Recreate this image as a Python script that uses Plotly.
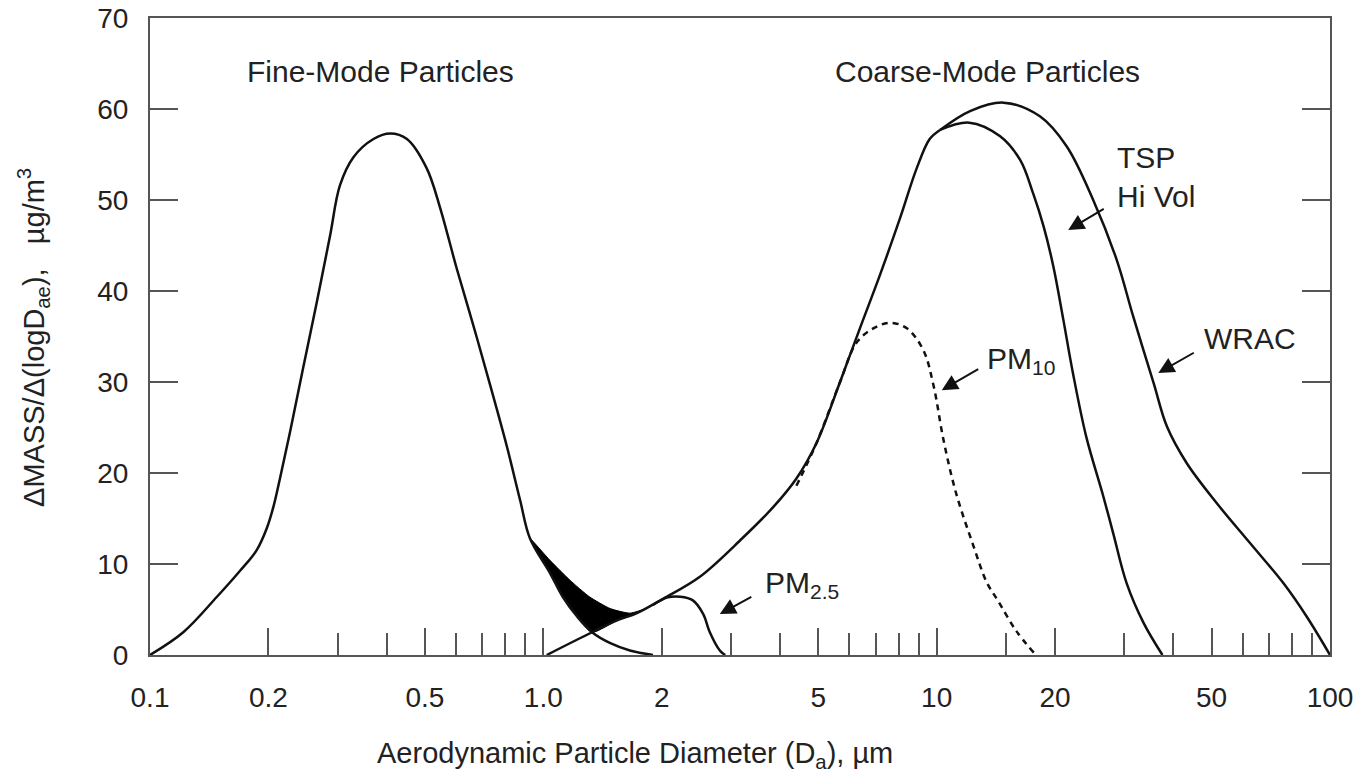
import numpy as np
import plotly.graph_objects as go

# ---------------- data ----------------
fine_x = [0.1, 0.1215, 0.148, 0.169, 0.1866, 0.198, 0.206, 0.214, 0.227, 0.245, 0.265, 0.287,
          0.304, 0.329, 0.370, 0.408, 0.450, 0.505, 0.546, 0.602, 0.664, 0.731, 0.807, 0.873,
          0.925, 1.04, 1.12, 1.22, 1.33, 1.48, 1.66, 1.90]
fine_y = [0, 2.5, 6.4, 9.2, 11.5, 13.9, 16.3, 19.4, 24.5, 31.5, 38.6, 46.1,
          51.6, 54.7, 56.7, 57.3, 56.7, 53.5, 49.2, 42.5, 36.2, 29.8, 23.0, 17.0,
          12.8, 9.0, 6.4, 4.2, 2.5, 1.3, 0.5, 0.0]

coarse_x = [1.02, 1.33, 1.54, 1.73, 2.02, 2.50, 3.2, 3.85, 4.40, 4.95, 5.68, 6.38, 7.18,
            8.07, 8.9, 9.6, 10.2]
coarse_y = [0.0, 2.5, 3.8, 4.6, 6.2, 8.6, 12.8, 16.3, 19.4, 23.3, 30.0, 35.9, 41.8,
            48.0, 53.5, 56.7, 57.7]

tsp_x = [10.2, 12.1, 14.5, 16.3, 17.6, 18.7, 19.8, 21.0, 22.2, 24.0, 26.5, 28.1, 30.4, 33.6, 37.5]
tsp_y = [57.7, 58.5, 57.0, 54.4, 50.7, 47.1, 42.7, 36.8, 31.0, 24.0, 17.5, 13.4, 7.9, 3.5, 0.0]

wrac_x = [10.2, 12.2, 14.8, 18.3, 21.4, 25.0, 28.7, 31.6, 35.6, 38.5, 43.2, 51.5, 62.6,
          76.1, 87.3, 100]
wrac_y = [57.7, 59.8, 60.7, 59.2, 55.9, 50.0, 43.4, 37.2, 29.9, 25.1, 21.1, 16.7, 12.3,
          7.9, 4.2, 0.0]

pm10_x = [4.40, 4.95, 5.68, 6.25, 6.9, 7.62, 8.4, 9.25, 9.82, 10.4, 11.2, 12.4, 13.4,
          14.3, 15.9, 17.7]
pm10_y = [18.6, 23.3, 30.0, 34.3, 35.9, 36.5, 35.9, 33.5, 29.6, 23.7, 17.8, 12.0, 8.0,
          6.0, 2.7, 0.2]

pm25_x = [1.9, 2.06, 2.23, 2.40, 2.55, 2.65, 2.81, 2.90]
pm25_y = [5.5, 6.3, 6.4, 6.0, 4.5, 2.5, 0.5, 0.0]

# upper edge of the black overlap region (sum of both modes)
overlap_x = [0.925, 1.04, 1.17, 1.31, 1.48, 1.66, 1.80]
overlap_y = [12.8, 10.4, 8.2, 6.4, 5.1, 4.6, 5.0]
cross_x = 1.33  # where fine and coarse curves cross

x_tickvals = [0.1, 0.2, 0.5, 1, 2, 5, 10, 20, 50, 100]
x_ticktext = ["0.1", "0.2", "0.5", "1.0", "2", "5", "10", "20", "50", "100"]
x_minor = [0.3, 0.4, 0.6, 0.7, 0.8, 0.9, 3, 4, 6, 7, 8, 9, 15, 30, 40, 60, 70, 80, 90]
y_tickvals = [0, 10, 20, 30, 40, 50, 60, 70]

# ---------------- figure ----------------
FONT = "Liberation Sans, Arial, Helvetica, sans-serif"
INK = "#111111"
AX = "#555555"
TXT = "#222222"

fig = go.Figure()

# black overlap fill polygon: top edge forward, then coarse + fine edges back
lo_c = [(x, y) for x, y in zip(coarse_x, coarse_y) if cross_x <= x <= overlap_x[-1]]
lo_f = [(x, y) for x, y in zip(fine_x, fine_y) if overlap_x[0] <= x < cross_x]
poly_x = list(overlap_x) + [p[0] for p in reversed(lo_c)] + [p[0] for p in reversed(lo_f)]
poly_y = list(overlap_y) + [p[1] for p in reversed(lo_c)] + [p[1] for p in reversed(lo_f)]
fig.add_trace(go.Scatter(x=poly_x, y=poly_y, mode="lines", fill="toself",
                         fillcolor="#000000", line=dict(color="#000000", width=1,
                         shape="spline", smoothing=0.6), hoverinfo="skip"))

line_kw = dict(color=INK, width=2.5, shape="spline", smoothing=1.0)
fig.add_trace(go.Scatter(x=fine_x, y=fine_y, mode="lines", line=line_kw))
fig.add_trace(go.Scatter(x=coarse_x, y=coarse_y, mode="lines", line=line_kw))
fig.add_trace(go.Scatter(x=tsp_x, y=tsp_y, mode="lines", line=line_kw))
fig.add_trace(go.Scatter(x=wrac_x, y=wrac_y, mode="lines", line=line_kw))
fig.add_trace(go.Scatter(x=pm25_x, y=pm25_y, mode="lines", line=line_kw))
fig.add_trace(go.Scatter(x=pm10_x, y=pm10_y, mode="lines",
                         line=dict(color=INK, width=2.5, dash="6px,5px",
                                   shape="spline", smoothing=1.0)))

# text labels
def lab(text, x, y, xanchor="left", size=30, align="left"):
    fig.add_annotation(x=np.log10(x), y=y, xref="x", yref="y", text=text,
                       showarrow=False, xanchor=xanchor, yanchor="middle", align=align,
                       font=dict(family=FONT, size=size, color=TXT))

lab("Fine-Mode Particles", 0.3866, 64.1, xanchor="center")
lab("Coarse-Mode Particles", 13.5, 64.1, xanchor="center")
lab("PM<sub>2.5</sub>", 3.62, 7.7)
lab("PM<sub>10</sub>", 13.3, 32.4)
lab("TSP<br>Hi Vol", 28.4, 52.5)
lab("WRAC", 47.3, 34.8)

# arrows (head position in data, tail offset in pixels)
arrows = [(2.81, 4.5, 33, -18), (10.3, 29.1, 38, -22), (21.6, 46.7, 37, -22), (36.6, 31.0, 37, -21)]
for hx, hy, ax, ay in arrows:
    fig.add_annotation(x=np.log10(hx), y=hy, xref="x", yref="y", ax=ax, ay=ay, text="",
                       showarrow=True, arrowhead=2, arrowsize=1.6, arrowwidth=2,
                       arrowcolor=INK, standoff=0)

# axis titles
fig.add_annotation(x=np.log10(1.711), y=-0.157, xref="x", yref="paper",
                   text="Aerodynamic Particle Diameter (D<sub>a</sub>), µm",
                   showarrow=False, xanchor="center", yanchor="middle",
                   font=dict(family=FONT, size=29, color=TXT))
fig.add_annotation(x=-0.099, y=0.498, xref="paper", yref="paper",
                   text="ΔMASS/Δ(logD<sub>ae</sub>),   µg/m<sup>3</sup>",
                   showarrow=False, textangle=-90, xanchor="center", yanchor="middle",
                   font=dict(family=FONT, size=29, color=TXT))

fig.update_layout(
    width=1367, height=784,
    margin=dict(l=150, r=37, t=18, b=129, autoexpand=False),
    paper_bgcolor="white", plot_bgcolor="white",
    showlegend=False,
    xaxis=dict(type="log", range=[-1, 2], showgrid=False, zeroline=False, automargin=False,
               showline=True, linecolor=AX, linewidth=2, mirror=True,
               tickmode="array", tickvals=x_tickvals, ticktext=x_ticktext,
               ticks="inside", ticklen=27, tickwidth=2, tickcolor=AX,
               ticklabelstandoff=16,
               tickfont=dict(family=FONT, size=28, color=TXT),
               minor=dict(tickmode="array", tickvals=x_minor, ticks="inside",
                          ticklen=22, tickwidth=2, tickcolor=AX, showgrid=False)),
    yaxis=dict(range=[0, 70], showgrid=False, zeroline=False, automargin=False,
               showline=True, linecolor=AX, linewidth=2, mirror="ticks",
               tickmode="array", tickvals=y_tickvals,
               ticks="inside", ticklen=28, tickwidth=2, tickcolor=AX,
               ticklabelstandoff=14, ticklabeloverflow="allow",
               tickfont=dict(family=FONT, size=28, color=TXT)),
)

fig.write_html("out.html", config={"displayModeBar": False},
               post_script="document.body.style.margin='0';document.body.style.overflow='hidden';")
